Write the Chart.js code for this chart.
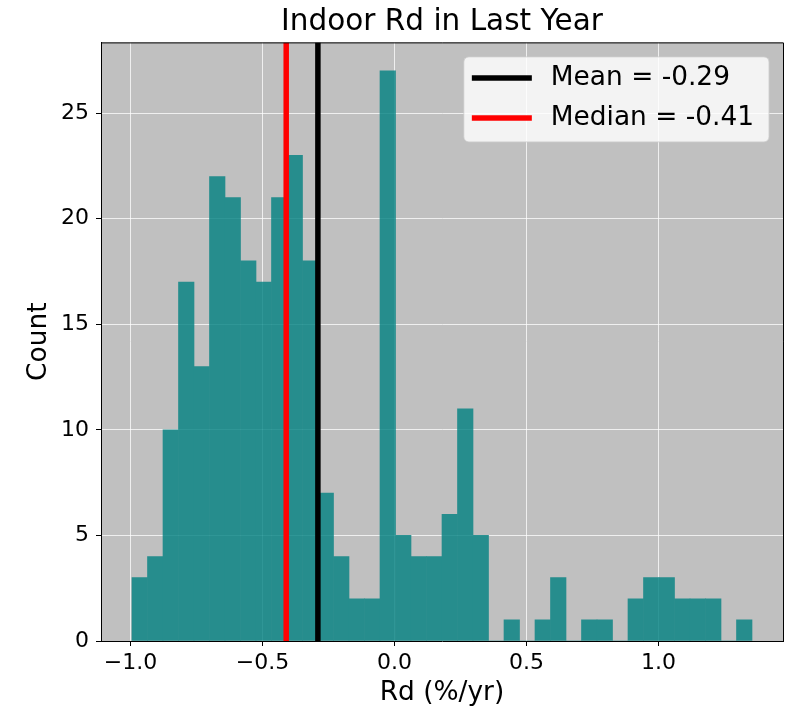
<!DOCTYPE html>
<html>
<head>
<meta charset="utf-8">
<title>Indoor Rd in Last Year</title>
<script src="https://cdn.jsdelivr.net/npm/chart.js@4.4.1/dist/chart.umd.min.js"></script>
<style>
  html, body { margin: 0; padding: 0; background: #fff; }
  canvas { display: block; }
</style>
</head>
<body>
<canvas id="rdChart" width="790" height="710"></canvas>
<script>
// Histogram of indoor Rd over the last year, with mean / median markers.

// ─── Data ────────────────────────────────────────────────────────────────────

// 40 equal-width bins spanning the smallest to the largest Rd value
const RD_MIN = -0.994;
const RD_MAX = 1.354;
const N_BINS = 40;

const BIN_COUNTS = [
  3, 4, 10, 17, 13, 22, 21, 18, 17, 21,
  23, 18, 7, 4, 2, 2, 27, 5, 4, 4,
  6, 11, 5, 0, 1, 0, 1, 3, 0, 1,
  1, 0, 2, 3, 3, 2, 2, 2, 0, 1,
];

const RD_MEAN = -0.29;
const RD_MEDIAN = -0.41;

const X_TICKS = [-1.0, -0.5, 0.0, 0.5, 1.0];
const Y_TICKS = [0, 5, 10, 15, 20, 25];

// ─── Style ───────────────────────────────────────────────────────────────────

const FONT = "'DejaVu Sans', sans-serif";
// teal at 80% over the silver background, pre-blended so bar seams don't show
const BAR_CLR = "rgb(38,141,141)";
const PLOT_BG = "#c0c0c0";
const GRID_CLR = "rgba(255,255,255,0.75)";

// matplotlib-style 5% margins around the data
const BIN_W = (RD_MAX - RD_MIN) / N_BINS;
const X_PAD = (RD_MAX - RD_MIN) * 0.05;
const Y_MAX = Math.max(...BIN_COUNTS) * 1.05;

const binCentres = BIN_COUNTS.map((_, i) => RD_MIN + BIN_W * (i + 0.5));

// ─── Plugins ─────────────────────────────────────────────────────────────────

const plotFrame = {
  id: "plotFrame",
  beforeDraw(chart) {
    const { ctx, chartArea: a } = chart;
    ctx.save();
    ctx.fillStyle = PLOT_BG;
    ctx.fillRect(a.left, a.top, a.right - a.left, a.bottom - a.top);
    ctx.restore();
  },
  afterDraw(chart) {
    // top and right spines (left / bottom come from the axis borders)
    const { ctx, chartArea: a } = chart;
    ctx.save();
    ctx.strokeStyle = "#000";
    ctx.lineWidth = 1;
    ctx.beginPath();
    ctx.moveTo(a.left, a.top + 0.5);
    ctx.lineTo(a.right + 0.5, a.top + 0.5);
    ctx.lineTo(a.right + 0.5, a.bottom);
    ctx.stroke();
    ctx.restore();
  },
};

// Faint grid showing through the bars, as with semi-transparent patches
const gridThroughBars = {
  id: "gridThroughBars",
  afterDatasetDraw(chart, args) {
    if (args.index !== 0) return;
    const { ctx, chartArea: a, scales } = chart;
    const align = (p) => Math.round(p - 0.5) + 0.5;
    ctx.save();
    ctx.beginPath();
    args.meta.data.forEach((bar) => {
      const { x, y, base, width } = bar.getProps(["x", "y", "base", "width"], true);
      ctx.rect(x - width / 2, y, width, base - y);
    });
    ctx.clip();
    ctx.globalCompositeOperation = "lighter";
    ctx.strokeStyle = "rgb(9,9,9)";
    ctx.lineWidth = 1;
    ctx.beginPath();
    X_TICKS.forEach((v) => {
      const px = align(scales.x.getPixelForValue(v));
      ctx.moveTo(px, a.top);
      ctx.lineTo(px, a.bottom);
    });
    Y_TICKS.forEach((v) => {
      const py = align(scales.y.getPixelForValue(v));
      ctx.moveTo(a.left, py);
      ctx.lineTo(a.right, py);
    });
    ctx.stroke();
    ctx.restore();
  },
};

// Legend drawn inside the plot, top right
const insideLegend = {
  id: "insideLegend",
  afterDraw(chart) {
    const { ctx, chartArea: a } = chart;
    const items = chart.data.datasets.filter((d) => d.type === "line");
    ctx.save();
    ctx.font = `26.4px ${FONT}`;
    const textW = Math.max(...items.map((d) => ctx.measureText(d.label).width));
    const padL = 8, handleW = 60, gap = 19, padR = 15;
    const w = padL + handleW + gap + textW + padR;
    const h = 85;
    const x = a.right - 14 - w;
    const y = a.top + 14.5;

    ctx.beginPath();
    ctx.roundRect(x, y, w, h, 5);
    ctx.fillStyle = "rgba(255,255,255,0.8)";
    ctx.fill();
    ctx.strokeStyle = "rgba(204,204,204,0.8)";
    ctx.lineWidth = 1;
    ctx.stroke();

    items.forEach((d, i) => {
      const rowY = y + 21 + i * 40;
      ctx.strokeStyle = d.borderColor;
      ctx.lineWidth = d.borderWidth;
      ctx.beginPath();
      ctx.moveTo(x + padL, rowY);
      ctx.lineTo(x + padL + handleW, rowY);
      ctx.stroke();
      ctx.fillStyle = "#000";
      ctx.textBaseline = "middle";
      ctx.textAlign = "left";
      ctx.fillText(d.label, x + padL + handleW + gap, rowY + 0.5);
    });
    ctx.restore();
  },
};

// ─── Chart ───────────────────────────────────────────────────────────────────

Chart.defaults.font.family = FONT;
Chart.defaults.color = "#000";

function markerLine(label, value, colour, order) {
  return {
    type: "line",
    label,
    data: [
      { x: value, y: 0 },
      { x: value, y: Y_MAX },
    ],
    borderColor: colour,
    borderWidth: 5.5,
    pointRadius: 0,
    order,
  };
}

const fmtX = (v) => {
  if (Math.abs(v) < 1e-9) return "0.0";
  return v.toFixed(1).replace("-", "\u2212");
};

new Chart(document.getElementById("rdChart"), {
  type: "bar",
  data: {
    datasets: [
      {
        type: "bar",
        label: "Rd",
        data: binCentres.map((c, i) => ({ x: c, y: BIN_COUNTS[i] })),
        backgroundColor: BAR_CLR,
        borderWidth: 0,
        barPercentage: 1,
        categoryPercentage: 1,
        order: 3,
      },
      markerLine(`Mean = ${RD_MEAN.toFixed(2)}`, RD_MEAN, "#000", 1),
      markerLine(`Median = ${RD_MEDIAN.toFixed(2)}`, RD_MEDIAN, "#ff0000", 2),
    ],
  },
  options: {
    responsive: false,
    animation: false,
    devicePixelRatio: 1,
    layout: { padding: { left: 0, right: 7, top: 0, bottom: 0 } },
    plugins: {
      legend: { display: false },
      tooltip: { enabled: false },
      title: {
        display: true,
        text: "Indoor Rd in Last Year",
        fullSize: false,
        color: "#000",
        font: { size: 29.5, weight: "normal" },
        padding: { top: 4.5, bottom: 2.5 },
      },
    },
    scales: {
      x: {
        type: "linear",
        offset: false,
        min: RD_MIN - X_PAD,
        max: RD_MAX + X_PAD,
        afterFit: (scale) => { scale.height = 69; },
        afterBuildTicks: (scale) => { scale.ticks = X_TICKS.map((v) => ({ value: v })); },
        grid: {
          offset: false,
          color: GRID_CLR,
          lineWidth: 1,
          tickColor: "#000",
          tickLength: 5,
        },
        border: { color: "#000", width: 1 },
        ticks: {
          font: { size: 22 },
          padding: 4,
          maxRotation: 0,
          callback: fmtX,
        },
        title: {
          display: true,
          text: "Rd (%/yr)",
          font: { size: 26.4 },
          padding: { top: 0, bottom: 1.5 },
        },
      },
      y: {
        min: 0,
        max: Y_MAX,
        afterFit: (scale) => { scale.width = 101; },
        afterBuildTicks: (scale) => { scale.ticks = Y_TICKS.map((v) => ({ value: v })); },
        grid: {
          color: GRID_CLR,
          lineWidth: 1,
          tickColor: "#000",
          tickLength: 5,
        },
        border: { color: "#000", width: 1 },
        ticks: {
          font: { size: 22 },
          padding: 7,
          callback: (v) => String(v),
        },
        title: {
          display: true,
          text: "Count",
          font: { size: 26.4 },
          padding: { top: 23.5, bottom: 0 },
        },
      },
    },
  },
  plugins: [plotFrame, gridThroughBars, insideLegend],
});
</script>
</body>
</html>
